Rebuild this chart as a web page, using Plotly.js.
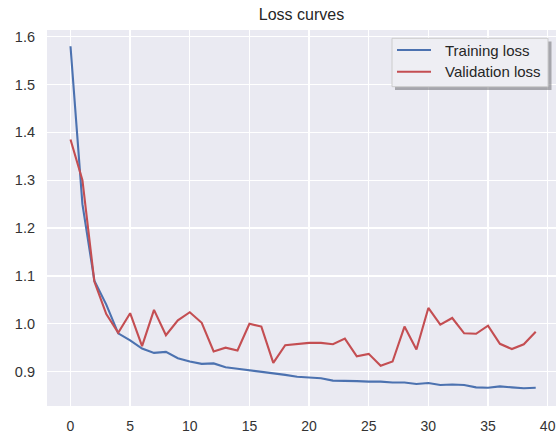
<!DOCTYPE html>
<html>
<head>
<meta charset="utf-8">
<script src="https://cdn.plot.ly/plotly-3.0.1.min.js"></script>
<style>html,body{margin:0;padding:0;background:#fff;}#chart{width:556px;height:434px;}</style>
</head>
<body>
<div id="chart"></div>
<script>
const epochs = Array.from({length: 40}, (_, i) => i);
const trainingLoss = [1.580, 1.250, 1.090, 1.040, 0.980, 0.965, 0.948, 0.939, 0.941, 0.928,
                      0.921, 0.916, 0.917, 0.909, 0.906, 0.903, 0.900, 0.897, 0.893, 0.889,
                      0.887, 0.886, 0.881, 0.881, 0.880, 0.879, 0.879, 0.877, 0.877, 0.874,
                      0.876, 0.872, 0.873, 0.872, 0.867, 0.866, 0.869, 0.867, 0.865, 0.866];
const validationLoss = [1.385, 1.300, 1.088, 1.020, 0.981, 1.022, 0.953, 1.029, 0.976, 1.007,
                        1.024, 1.002, 0.942, 0.950, 0.944, 1.000, 0.994, 0.918, 0.955, 0.957,
                        0.960, 0.960, 0.957, 0.969, 0.932, 0.937, 0.912, 0.921, 0.994, 0.946,
                        1.033, 0.998, 1.012, 0.980, 0.979, 0.996, 0.958, 0.947, 0.957, 0.983];
const seriesNames = ["Training loss", "Validation loss"];
const seriesColors = ["#4C72B0", "#C44E52"];
const xTicks = [0, 5, 10, 15, 20, 25, 30, 35, 40];
const yTicks = [0.9, 1.0, 1.1, 1.2, 1.3, 1.4, 1.5, 1.6];

const W = 556, H = 434;
const M = {l: 47, r: 0, t: 30, b: 28};
const PW = W - M.l - M.r, PH = H - M.t - M.b;
// helpers to place legend decorations in paper coordinates from pixel positions
const px = v => (v - M.l) / PW;
const py = v => (H - M.b - v) / PH;

const traces = [
  {x: epochs, y: trainingLoss, name: seriesNames[0], type: "scatter", mode: "lines",
   line: {color: seriesColors[0], width: 2.1}, showlegend: false},
  {x: epochs, y: validationLoss, name: seriesNames[1], type: "scatter", mode: "lines",
   line: {color: seriesColors[1], width: 2.1}, showlegend: false}
];

const fam = "Liberation Sans, Arial, sans-serif";
const legendRowsY = [50, 71.7];
const shapes = [
  {type: "rect", xref: "paper", yref: "paper", x0: px(395), x1: px(551.5), y0: py(90), y1: py(41.5),
   fillcolor: "rgba(110,110,115,0.55)", line: {width: 0}, layer: "above"},
  {type: "rect", xref: "paper", yref: "paper", x0: px(392), x1: px(548), y0: py(86.7), y1: py(38.3),
   fillcolor: "#EEEEF3", line: {color: "#CCCCCC", width: 1}, layer: "above"}
];
const annotations = [];
seriesNames.forEach((name, i) => {
  shapes.push({type: "line", xref: "paper", yref: "paper", x0: px(397), x1: px(431),
               y0: py(legendRowsY[i]), y1: py(legendRowsY[i]),
               line: {color: seriesColors[i], width: 2}, layer: "above"});
  annotations.push({text: name, xref: "paper", yref: "paper", x: px(443), y: py(legendRowsY[i]),
                    xanchor: "left", yanchor: "middle", showarrow: false,
                    font: {family: fam, size: 15, color: "#262626"}});
});

const layout = {
  width: W, height: H,
  margin: M,
  paper_bgcolor: "#ffffff",
  plot_bgcolor: "#EAEAF2",
  font: {family: fam, size: 14, color: "#262626"},
  title: {text: "Loss curves", font: {family: fam, size: 16, color: "#262626"},
          x: 0.5, xref: "paper", xanchor: "center", y: 0.966, yanchor: "middle"},
  xaxis: {range: [-1.97, 40.7], tickvals: xTicks, ticktext: xTicks.map(String),
          showgrid: true, gridcolor: "#ffffff", gridwidth: 1.3, zeroline: false,
          showline: false, ticks: "", ticklabelstandoff: 10, tickfont: {size: 14, color: "#333333"}},
  yaxis: {range: [0.828, 1.614], tickvals: yTicks, ticktext: yTicks.map(v => v.toFixed(1)),
          showgrid: true, gridcolor: "#ffffff", gridwidth: 1.3, zeroline: false,
          showline: false, ticks: "", ticklabelstandoff: 11, tickfont: {size: 14.5, color: "#333333"}},
  showlegend: false,
  shapes: shapes,
  annotations: annotations
};
Plotly.newPlot("chart", traces, layout, {displayModeBar: false, staticPlot: true});
</script>
</body>
</html>
